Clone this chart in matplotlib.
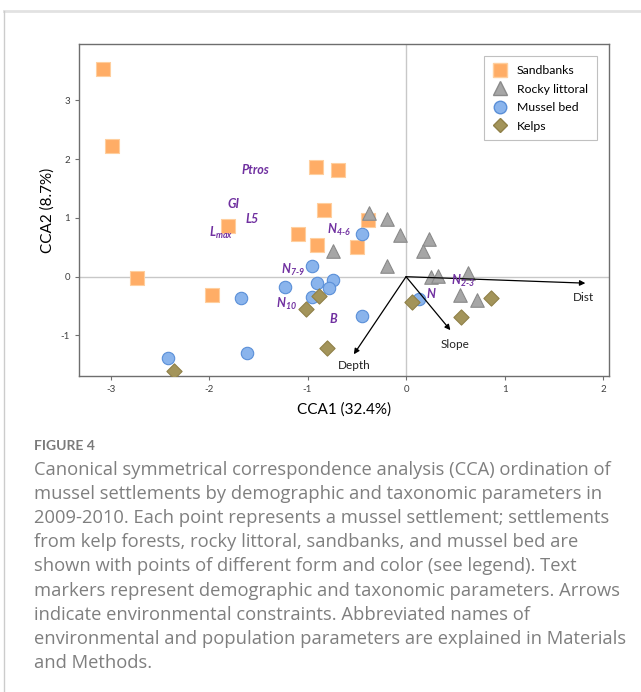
import matplotlib
matplotlib.use("Agg")
import matplotlib.pyplot as plt
from matplotlib.lines import Line2D

# site scores, by habitat
sand_x = [-3.08, -2.98, -0.91, -0.69, -0.83, -1.81, -1.10, -0.90, -0.50, -0.39, -2.73, -1.97]
sand_y = [3.53, 2.22, 1.86, 1.82, 1.14, 0.87, 0.73, 0.54, 0.51, 0.96, -0.03, -0.32]
rocky_x = [-0.38, -0.19, -0.74, -0.06, 0.23, 0.17, -0.19, 0.25, 0.32, 0.63, 0.55, 0.72]
rocky_y = [1.08, 0.98, 0.43, 0.71, 0.64, 0.44, 0.19, -0.01, 0.02, 0.06, -0.32, -0.39]
mussel_x = [-0.95, -0.74, -0.90, -1.23, -0.78, -0.95, -1.68, -2.42, -1.61, -0.45, -0.45, 0.13]
mussel_y = [0.18, -0.05, -0.11, -0.18, -0.19, -0.34, -0.37, -1.39, -1.30, 0.72, -0.67, -0.38]
kelp_x = [-0.88, -1.02, -0.80, -2.36, 0.06, 0.56, 0.86]
kelp_y = [-0.33, -0.55, -1.21, -1.60, -0.43, -0.69, -0.36]

# environmental constraints (arrows)
env_names = ["Dist", "Slope", "Depth"]
env_x = [1.82, 0.45, -0.53]
env_y = [-0.11, -0.91, -1.32]

# demographic / taxonomic parameters (text markers)
par_names = ["Ptros", "GI", "L5", r"L$_{\text{max}}$", r"N$_{\text{4-6}}$", r"N$_{\text{7-9}}$",
             r"N$_{\text{10}}$", "B", "N", r"N$_{\text{2-3}}$"]
par_x = [-1.53, -1.75, -1.56, -1.88, -0.68, -1.15, -1.21, -0.74, 0.25, 0.58]
par_y = [1.82, 1.24, 0.98, 0.74, 0.80, 0.12, -0.46, -0.72, -0.30, -0.08]

caption = [
    "Canonical symmetrical correspondence analysis (CCA) ordination of",
    "mussel settlements by demographic and taxonomic parameters in",
    "2009-2010. Each point represents a mussel settlement; settlements",
    "from kelp forests, rocky littoral, sandbanks, and mussel bed are",
    "shown with points of different form and color (see legend). Text",
    "markers represent demographic and taxonomic parameters. Arrows",
    "indicate environmental constraints. Abbreviated names of",
    "environmental and population parameters are explained in Materials",
    "and Methods.",
]

plt.rcParams["font.family"] = ["Lato", "DejaVu Sans"]
plt.rcParams["axes.unicode_minus"] = False
plt.rcParams["mathtext.fontset"] = "custom"
plt.rcParams["mathtext.rm"] = "Lato:bold:italic"
plt.rcParams["mathtext.it"] = "Lato:bold:italic"

W, H = 641, 692
fig = plt.figure(figsize=(W / 100, H / 100), dpi=100)
ax = fig.add_axes([79 / W, 1 - 376 / H, 530 / W, 332 / H])

ax.axhline(0, color="#c8c8c8", lw=1, zorder=0)
ax.axvline(0, color="#c8c8c8", lw=1, zorder=0)

ax.scatter(sand_x, sand_y, marker="s", s=105, color="#ffad66", edgecolors="#ffcf9e", linewidths=0.8, zorder=3)
ax.scatter(rocky_x, rocky_y, marker="^", s=95, color="#a6a6a6", edgecolors="#8a8a8a", linewidths=0.8, zorder=3)
ax.scatter(mussel_x, mussel_y, marker="o", s=80, color="#8ab4ec", edgecolors="#5a8fd8", linewidths=0.8, zorder=3)
ax.scatter(kelp_x, kelp_y, marker="D", s=60, color="#a3945a", edgecolors="#8f8048", linewidths=0.8, zorder=3)

# arrows + labels
lab_off = {"Dist": (-0.02, -0.24), "Slope": (0.05, -0.24), "Depth": (0.0, -0.19)}
for name, ex, ey in zip(env_names, env_x, env_y):
    ax.annotate("", xy=(ex, ey), xytext=(0, 0),
                arrowprops=dict(arrowstyle="-|>", color="black", lw=0.9,
                                mutation_scale=8, shrinkA=0, shrinkB=0), zorder=4)
    dx, dy = lab_off[name]
    ax.text(ex + dx, ey + dy, name, ha="center", va="center", fontsize=8.5, color="#222222")

for name, px, py in zip(par_names, par_x, par_y):
    ax.text(px, py, name, ha="center", va="center", fontsize=9, color="#7030a0",
            fontweight="bold", fontstyle="italic", zorder=5)

ax.set_xlim(-3.32, 2.06)
ax.set_ylim(-1.69, 3.96)
ax.set_xticks([-3, -2, -1, 0, 1, 2])
ax.set_yticks([-1, 0, 1, 2, 3])
ax.tick_params(direction="out", length=3, width=0.8, color="#707070", labelsize=7, labelcolor="#404040")
for sp in ax.spines.values():
    sp.set_color("#6e6e6e")
    sp.set_linewidth(1)

ax.set_xlabel("CCA1 (32.4%)", fontsize=11, labelpad=6)
ax.set_ylabel("CCA2 (8.7%)", fontsize=11, labelpad=4)

handles = [
    Line2D([], [], ls="", marker="s", ms=10, color="#ffad66", mec="#ffcf9e"),
    Line2D([], [], ls="", marker="^", ms=9.5, color="#a6a6a6", mec="#8a8a8a"),
    Line2D([], [], ls="", marker="o", ms=9, color="#8ab4ec", mec="#5a8fd8"),
    Line2D([], [], ls="", marker="D", ms=7.5, color="#a3945a", mec="#8f8048"),
]
leg = ax.legend(handles, ["Sandbanks", "Rocky littoral", "Mussel bed", "Kelps"],
                loc="upper right", bbox_to_anchor=(0.988, 0.981), fontsize=8.8,
                frameon=True, fancybox=False, framealpha=1, edgecolor="#c0c0c0",
                handlelength=1.2, handletextpad=0.8, labelspacing=0.62, borderpad=0.7)
leg.get_frame().set_linewidth(0.8)

# outer frame of the figure panel
fig.add_artist(Line2D([4 / W, 1], [1 - 11 / H, 1 - 11 / H], color="#e2e2e2", lw=2))
fig.add_artist(Line2D([4 / W, 4 / W], [0, 1 - 11 / H], color="#cccccc", lw=1))

fig.text(34 / W, 1 - 446 / H, "FIGURE 4", fontsize=10, fontweight="bold", color="#7a7a7a", va="center")
for i, line in enumerate(caption):
    fig.text(34 / W, 1 - (470 + 24.1 * i) / H, line, fontsize=13.2, color="#7f7f7f", va="center",
             family="Open Sans")

fig.savefig("out.png", dpi=100)
